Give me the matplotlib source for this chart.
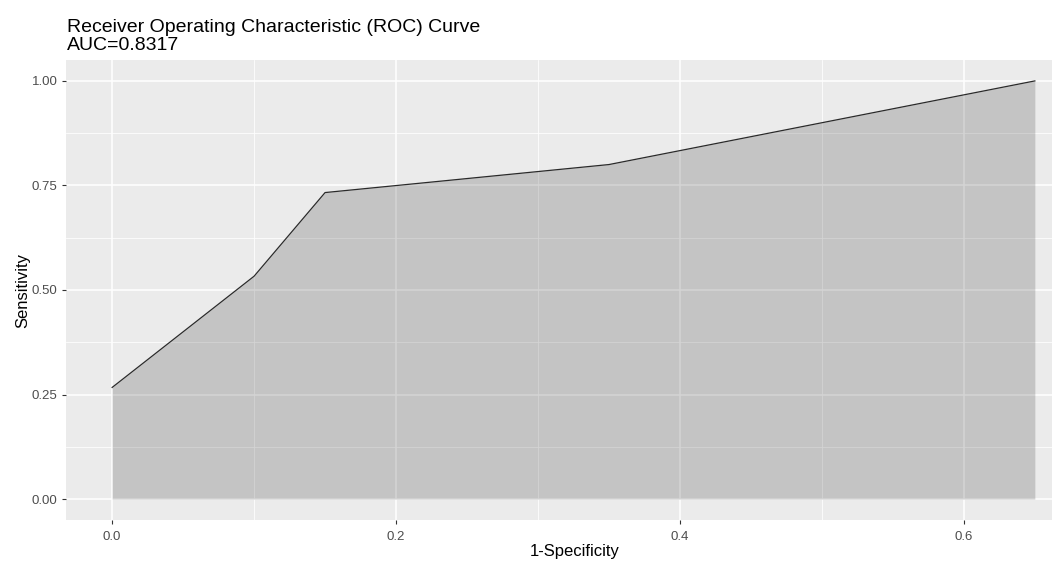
import matplotlib.pyplot as plt
import numpy as np

# ROC 曲线数据
fpr = [0.0, 0.10, 0.15, 0.35, 0.65]
tpr = [0.267, 0.533, 0.733, 0.80, 1.0]
auc_value = 0.8317

x_ticks = [0.0, 0.2, 0.4, 0.6]
x_tick_labels = ['0.0', '0.2', '0.4', '0.6']
y_ticks = [0.0, 0.25, 0.5, 0.75, 1.0]
y_tick_labels = ['0.00', '0.25', '0.50', '0.75', '1.00']

plt.rcParams['font.family'] = ['Liberation Sans', 'DejaVu Sans']

W, H = 1052, 563
fig = plt.figure(figsize=(W / 100, H / 100), dpi=100)
# 原图右侧被裁掉了一点，面板延伸到画布外
ax = fig.add_axes([66 / W, 1 - 520 / H, (1081 - 66) / W, (520 - 60) / H])

# ggplot2 风格背景
ax.set_facecolor('#EBEBEB')
for s in ax.spines.values():
    s.set_visible(False)

ax.set_xticks(x_ticks)
ax.set_xticklabels(x_tick_labels)
ax.set_yticks(y_ticks)
ax.set_yticklabels(y_tick_labels)
ax.set_xticks([0.1, 0.3, 0.5], minor=True)
ax.set_yticks([0.125, 0.375, 0.625, 0.875], minor=True)
ax.grid(True, which='major', color='white', linewidth=1.1)
ax.grid(True, which='minor', color='white', linewidth=0.55)
ax.set_axisbelow(True)

ax.fill_between(fpr, 0, tpr, color='black', alpha=0.166, linewidth=0, zorder=2)
ax.plot(fpr, tpr, color='#2A2A2A', linewidth=0.9, zorder=3)

xmax = max(fpr)
ax.set_xlim(-0.05 * xmax, xmax * 1.05)
ax.set_ylim(-0.05, 1.05)

ax.tick_params(axis='both', which='major', length=3, width=0.8, color='#333333',
               labelsize=9.5, labelcolor='#4D4D4D', pad=3)
ax.tick_params(axis='x', which='major', pad=5)
ax.tick_params(axis='both', which='minor', length=0)

ax.set_xlabel('1-Specificity', fontsize=12, color='black')
ax.set_ylabel('Sensitivity', fontsize=12, color='black')
ax.xaxis.set_label_coords((575 - 66) / (1081 - 66), -0.052)
ax.yaxis.set_label_coords(-36 / (1081 - 66), 0.5)

fig.text(67 / W, 1 - 19 / H,
         f'Receiver Operating Characteristic (ROC) Curve\nAUC={auc_value}',
         fontsize=14, va='top', ha='left', linespacing=1.05)

plt.savefig('out.png', dpi=100)
